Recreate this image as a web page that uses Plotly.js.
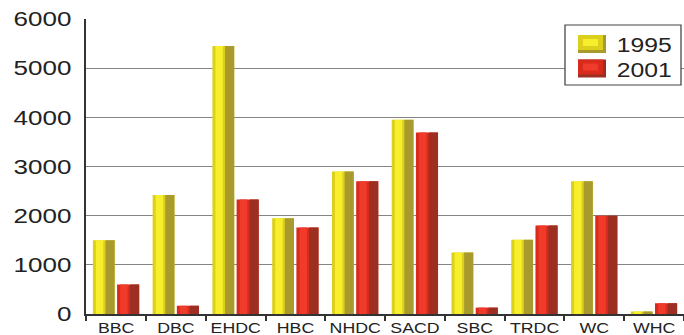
<!DOCTYPE html>
<html>
<head>
<meta charset="utf-8">
<script src="https://cdn.plot.ly/plotly-3.0.1.min.js"></script>
<style>
  html, body { margin: 0; padding: 0; background: #ffffff; overflow: hidden; }
  #wrap { width: 684px; height: 335px; overflow: hidden; }
  #chart { width: 539px; height: 335px; transform: scaleX(1.269); transform-origin: 0 0; }
</style>
</head>
<body>
<div id="wrap"><div id="chart"></div></div>
<script>
const categories = ['BBC', 'DBC', 'EHDC', 'HBC', 'NHDC', 'SACD', 'SBC', 'TRDC', 'WC', 'WHC'];
const values1995 = [1500, 2420, 5450, 1950, 2900, 3950, 1250, 1510, 2700, 50];
const values2001 = [600, 170, 2330, 1760, 2700, 3690, 130, 1800, 2000, 220];
const seriesNames = ['1995', '2001'];
const yTickValues = [0, 1000, 2000, 3000, 4000, 5000, 6000];

// geometry (screen px after the horizontal stretch)
const SX = 1.269, PLOT_L = 68 * SX, PLOT_W = 471 * SX, PLOT_T = 19, PLOT_H = 295;
const px = x => (x - PLOT_L) / PLOT_W;
const py = y => (PLOT_T + PLOT_H - y) / PLOT_H;

// shaded "cylinder" look: base, highlight strip, dark right side
function seriesTraces(name, values, offset, width, cols) {
  const common = { type: 'bar', x: categories, y: values, showlegend: false, hoverinfo: 'skip' };
  return [
    Object.assign({}, common, { name: name, offset: offset, width: width,
      marker: { color: cols.base, line: { width: 0 } } }),
    Object.assign({}, common, { name: name + ' hl', offset: offset + width * 0.14, width: width * 0.34,
      marker: { color: cols.hi, line: { width: 0 } } }),
    Object.assign({}, common, { name: name + ' dk', offset: offset + width * 0.58, width: width * 0.42,
      marker: { color: cols.dark, line: { width: 0 } } })
  ];
}

const yellow = { base: '#ddd01c', hi: '#f7ee2c', dark: '#a99a2e' };
const red = { base: '#d92b1d', hi: '#f03a2a', dark: '#9c2f22' };
const seriesColors = [yellow, red];

const data = [].concat(
  seriesTraces(seriesNames[0], values1995, -0.39, 0.365, yellow),
  seriesTraces(seriesNames[1], values2001, 0.015, 0.37, red)
);

// legend drawn as a boxed key
const shapes = [{
  type: 'rect', xref: 'paper', yref: 'paper',
  x0: px(565), x1: px(681), y0: py(85), y1: py(25),
  line: { color: '#444444', width: 1 }, fillcolor: '#ffffff', layer: 'above'
}];
const annotations = [];
seriesNames.forEach((nm, i) => {
  const cy = 44 + i * 24.5;
  const c = seriesColors[i];
  const sw = (x0, x1, y0, y1, col) => shapes.push({
    type: 'rect', xref: 'paper', yref: 'paper', layer: 'above',
    x0: px(x0), x1: px(x1), y0: py(y1), y1: py(y0), line: { width: 0 }, fillcolor: col
  });
  sw(578, 606, cy - 9, cy + 9, c.dark);
  sw(578, 603, cy - 9, cy + 6, c.base);
  sw(583, 598, cy - 5, cy + 2, c.hi);
  annotations.push({
    xref: 'paper', yref: 'paper', x: px(614), y: py(cy + 1), xanchor: 'left', yanchor: 'middle',
    text: nm, showarrow: false, font: { size: 19.5, color: '#222222' }
  });
});

const layout = {
  width: 539, height: 335,
  margin: { l: 68, r: 0, t: 19, b: 21, pad: 0 },
  paper_bgcolor: '#ffffff', plot_bgcolor: '#ffffff',
  barmode: 'overlay',
  font: { family: '"Liberation Sans", Arial, sans-serif', color: '#222222' },
  xaxis: {
    type: 'category', categoryorder: 'array', categoryarray: categories,
    showline: true, linecolor: '#333333', linewidth: 2,
    ticks: 'outside', tickson: 'boundaries', ticklen: 5, tickwidth: 1.6, tickcolor: '#333333',
    tickangle: 0,
    tickfont: { size: 14, color: '#222222' },
    showgrid: false, zeroline: false, automargin: false, fixedrange: true
  },
  yaxis: {
    range: [0, 6000], tickvals: yTickValues, ticktext: yTickValues.map(String),
    showline: true, linecolor: '#333333', linewidth: 1.6,
    ticks: 'outside', ticklen: 6, tickcolor: 'rgba(0,0,0,0)',
    tickfont: { size: 20.5, color: '#222222' },
    showgrid: true, gridcolor: '#858585', gridwidth: 1.3,
    zeroline: false, automargin: false, fixedrange: true
  },
  shapes: shapes,
  annotations: annotations,
  showlegend: false
};

Plotly.newPlot('chart', data, layout, { displayModeBar: false, staticPlot: true });
</script>
</body>
</html>
